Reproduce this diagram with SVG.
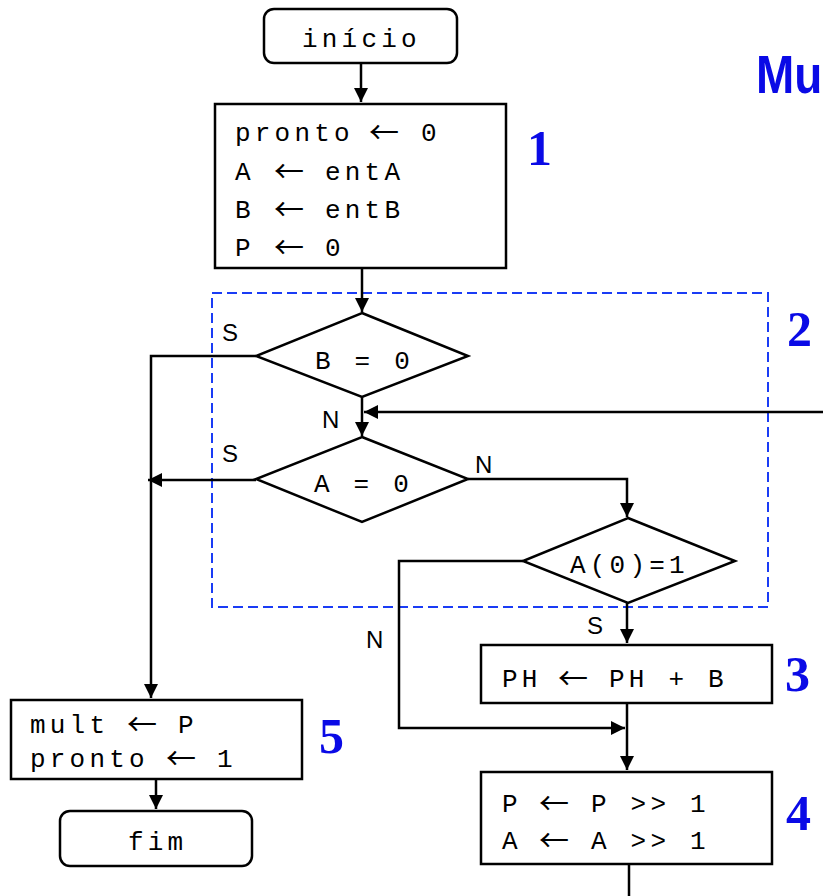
<svg xmlns="http://www.w3.org/2000/svg" width="823" height="896" viewBox="0 0 823 896">
<style>
.box{fill:#fff;stroke:#000;stroke-width:2.5}
.dia{fill:#fff;stroke:#000;stroke-width:2.5;stroke-linejoin:miter}
.mono{font-family:"Liberation Mono","DejaVu Sans Mono",monospace;font-size:26px;letter-spacing:4.2px;fill:#000}
.arr{font-family:"Noto Sans CJK JP","DejaVu Sans",sans-serif;font-size:30px;letter-spacing:0}
.sp{font-size:8px;letter-spacing:0}
.lbl{font-family:"Liberation Sans",Arial,sans-serif;font-size:24px;fill:#000}
.num{font-family:"Liberation Serif","Times New Roman",serif;font-weight:bold;font-size:50px;fill:#0a0ae6}
.title{font-family:"Liberation Sans",Arial,sans-serif;font-weight:bold;font-size:54px;fill:#0a0ae6}
.con{fill:none;stroke:#000;stroke-width:2.5}
</style>
<defs>
<marker id="ah" markerUnits="userSpaceOnUse" markerWidth="14" markerHeight="14" refX="14" refY="7" orient="auto" viewBox="0 0 14 14">
<path d="M0,0 L14,7 L0,14 z" fill="#000"/>
</marker>
</defs>
<rect width="823" height="896" fill="#fff"/>

<text class="title" transform="translate(756,93) scale(0.85,1)">Mu</text>

<g id="loop-region">
<rect x="212" y="293" width="556" height="314" fill="none" stroke="#1a3cf5" stroke-width="2" stroke-dasharray="10 5"/>
<text class="num" x="787" y="346">2</text>
</g>

<g id="connectors">
<path class="con" d="M361,63 V102" marker-end="url(#ah)"/>
<path class="con" d="M362,268 V312" marker-end="url(#ah)"/>
<path class="con" d="M256,356 H151 V698" marker-end="url(#ah)"/>
<path class="con" d="M362,397 V436" marker-end="url(#ah)"/>
<path class="con" d="M823,412 H364" marker-end="url(#ah)"/>
<path class="con" d="M256,480 H148" marker-end="url(#ah)"/>
<path class="con" d="M468,479 H627 V517" marker-end="url(#ah)"/>
<path class="con" d="M523,561 H399 V728 H625" marker-end="url(#ah)"/>
<path class="con" d="M627,603 V643" marker-end="url(#ah)"/>
<path class="con" d="M627,703 V770" marker-end="url(#ah)"/>
<path class="con" d="M629,864 V896"/>
<path class="con" d="M156,779 V809" marker-end="url(#ah)"/>
<text class="lbl" x="222" y="341">S</text>
<text class="lbl" x="322" y="428">N</text>
<text class="lbl" x="222" y="462">S</text>
<text class="lbl" x="475" y="473">N</text>
<text class="lbl" x="587" y="634">S</text>
<text class="lbl" x="366" y="648">N</text>
</g>

<g id="inicio">
<rect class="box" x="264" y="9" width="193" height="54" rx="10"/>
<text class="mono" x="302" y="47">início</text>
</g>

<g id="step1">
<rect class="box" x="215" y="104" width="291" height="164"/>
<text class="mono" x="235" y="141">pronto<tspan class="sp"> </tspan><tspan class="arr" x="369" dy="2">←</tspan><tspan class="sp"> </tspan><tspan x="421" dy="-2">0</tspan></text>
<text class="mono" x="235" y="180">A<tspan class="sp"> </tspan><tspan class="arr" x="274" dy="2">←</tspan><tspan class="sp"> </tspan><tspan x="325" dy="-2">entA</tspan></text>
<text class="mono" x="235" y="218">B<tspan class="sp"> </tspan><tspan class="arr" x="274" dy="2">←</tspan><tspan class="sp"> </tspan><tspan x="325" dy="-2">entB</tspan></text>
<text class="mono" x="235" y="256">P<tspan class="sp"> </tspan><tspan class="arr" x="274" dy="2">←</tspan><tspan class="sp"> </tspan><tspan x="325" dy="-2">0</tspan></text>
<text class="num" x="527" y="165">1</text>
</g>

<g id="dec-b">
<polygon class="dia" points="362,313 468,356 362,397 256,356"/>
<text class="mono" x="315" y="369">B = 0</text>
</g>

<g id="dec-a">
<polygon class="dia" points="362,437 468,479 362,522 256,479"/>
<text class="mono" x="314" y="492">A = 0</text>
</g>

<g id="dec-a0">
<polygon class="dia" points="628,518 735,561 628,603 523,561"/>
<text class="mono" x="570" y="573">A(0)=1</text>
</g>

<g id="step3">
<rect class="box" x="481" y="645" width="291" height="58"/>
<text class="mono" x="502" y="687">PH<tspan class="sp"> </tspan><tspan class="arr" x="558" dy="2">←</tspan><tspan class="sp"> </tspan><tspan x="609" dy="-2">PH + B</tspan></text>
<text class="num" x="785" y="691">3</text>
</g>

<g id="step4">
<rect class="box" x="481" y="772" width="291" height="92"/>
<text class="mono" x="502" y="812">P<tspan class="sp"> </tspan><tspan class="arr" x="539" dy="2">←</tspan><tspan class="sp"> </tspan><tspan x="591" dy="-2">P &gt;&gt; 1</tspan></text>
<text class="mono" x="502" y="849">A<tspan class="sp"> </tspan><tspan class="arr" x="539" dy="2">←</tspan><tspan class="sp"> </tspan><tspan x="591" dy="-2">A &gt;&gt; 1</tspan></text>
<text class="num" x="786" y="830">4</text>
</g>

<g id="step5">
<rect class="box" x="11" y="700" width="291" height="79"/>
<text class="mono" x="30" y="733">mult<tspan class="sp"> </tspan><tspan class="arr" x="127" dy="2">←</tspan><tspan class="sp"> </tspan><tspan x="178" dy="-2">P</tspan></text>
<text class="mono" x="30" y="767">pronto<tspan class="sp"> </tspan><tspan class="arr" x="166" dy="2">←</tspan><tspan class="sp"> </tspan><tspan x="217" dy="-2">1</tspan></text>
<text class="num" x="319" y="753">5</text>
</g>

<g id="fim">
<rect class="box" x="60" y="811" width="192" height="55" rx="10"/>
<text class="mono" x="128" y="850">fim</text>
</g>
</svg>
